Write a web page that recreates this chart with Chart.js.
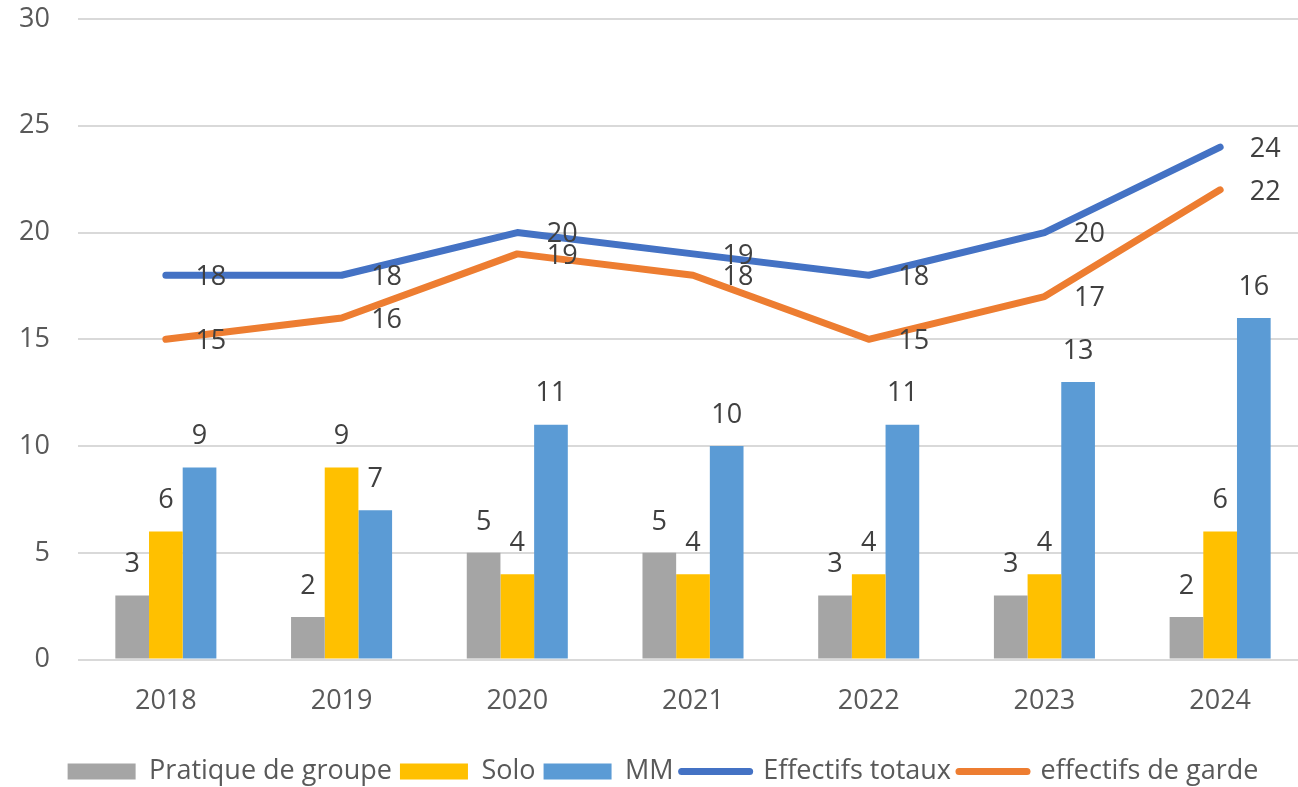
<!DOCTYPE html>
<html>
<head>
<meta charset="utf-8">
<script src="https://cdn.jsdelivr.net/npm/chart.js@4/dist/chart.umd.min.js"></script>
<style>
  html, body { margin: 0; padding: 0; background: #fff; overflow: hidden; }
  /* plot area runs a little past the right edge, as in the reference */
  #wrap { position: relative; width: 1308px; height: 787px; }
</style>
</head>
<body>
<div id="wrap"><canvas id="chart"></canvas></div>
<script>
// Data
const years = ['2018', '2019', '2020', '2021', '2022', '2023', '2024'];
const pratiqueGroupe = [3, 2, 5, 5, 3, 3, 2];
const solo = [6, 9, 4, 4, 4, 4, 6];
const mm = [9, 7, 11, 10, 11, 13, 16];
const effectifsTotaux = [18, 18, 20, 19, 18, 20, 24];
const effectifsGarde = [15, 16, 19, 18, 15, 17, 22];

const colors = {
    groupe: '#a5a5a5',
    solo: '#ffc000',
    mm: '#5b9bd5',
    totaux: '#4472c4',
    garde: '#ed7d31'
};

const labelFont = '27px "Open Sans"';
const labelColor = '#404040';

// Draw value labels: above bars, to the right of line points
const valueLabels = {
    id: 'valueLabels',
    afterDatasetsDraw(chart) {
        const ctx = chart.ctx;
        ctx.save();
        ctx.font = labelFont;
        ctx.fillStyle = labelColor;
        ctx.textAlign = 'center';
        ctx.textBaseline = 'middle';
        chart.data.datasets.forEach((ds, i) => {
            const meta = chart.getDatasetMeta(i);
            meta.data.forEach((el, j) => {
                const v = ds.data[j];
                if (ds.type === 'line') {
                    ctx.fillText(v, el.x + 45, el.y + 2);
                } else {
                    ctx.fillText(v, el.x, el.y - 31);
                }
            });
        });
        ctx.restore();
    }
};

const ctx = document.getElementById('chart').getContext('2d');

new Chart(ctx, {
    type: 'bar',
    data: {
        labels: years,
        datasets: [
            { label: 'Pratique de groupe', data: pratiqueGroupe, backgroundColor: colors.groupe, order: 1 },
            { label: 'Solo', data: solo, backgroundColor: colors.solo, order: 1 },
            { label: 'MM', data: mm, backgroundColor: colors.mm, order: 1 },
            {
                type: 'line', label: 'Effectifs totaux', data: effectifsTotaux,
                borderColor: colors.totaux, backgroundColor: colors.totaux,
                borderWidth: 7, pointRadius: 0, tension: 0,
                borderJoinStyle: 'round', borderCapStyle: 'round', order: 0
            },
            {
                type: 'line', label: 'effectifs de garde', data: effectifsGarde,
                borderColor: colors.garde, backgroundColor: colors.garde,
                borderWidth: 7, pointRadius: 0, tension: 0,
                borderJoinStyle: 'round', borderCapStyle: 'round', order: 0
            }
        ]
    },
    options: {
        responsive: true,
        maintainAspectRatio: false,
        animation: false,
        layout: {
            padding: { left: 18, right: 0, top: 19, bottom: -8 }
        },
        datasets: {
            bar: {
                categoryPercentage: 0.575,
                barPercentage: 1,
                borderWidth: 0
            }
        },
        plugins: {
            tooltip: { enabled: false },
            legend: {
                position: 'bottom',
                labels: {
                    color: '#595959',
                    font: { family: 'Open Sans', size: 27 },
                    usePointStyle: true,
                    pointStyleWidth: 68,
                    boxHeight: 16,
                    padding: 8,
                    generateLabels(chart) {
                        return chart.data.datasets.map((ds, i) => {
                            const isLine = ds.type === 'line';
                            return {
                                text: ds.label,
                                fillStyle: ds.backgroundColor,
                                strokeStyle: isLine ? ds.borderColor : ds.backgroundColor,
                                lineWidth: isLine ? 7 : 0,
                                lineCap: 'round',
                                pointStyle: isLine ? 'line' : 'rect',
                                fontColor: '#595959',
                                hidden: false,
                                datasetIndex: i
                            };
                        });
                    }
                }
            }
        },
        scales: {
            x: {
                afterFit(scale) { scale.height += 14; },
                grid: { display: false },
                border: { display: false },
                ticks: {
                    color: '#595959',
                    font: { family: 'Open Sans', size: 27 },
                    padding: 18
                }
            },
            y: {
                min: 0,
                max: 30,
                afterFit(scale) {
                    scale.width = 60;
                    scale.paddingTop = 0;
                    scale.paddingBottom = 0;
                },
                grid: { color: '#d9d9d9', lineWidth: 2, drawTicks: false },
                border: { display: false },
                ticks: {
                    stepSize: 5,
                    color: '#595959',
                    font: { family: 'Open Sans', size: 27 },
                    padding: 28
                }
            }
        }
    },
    plugins: [valueLabels]
});
</script>
</body>
</html>
